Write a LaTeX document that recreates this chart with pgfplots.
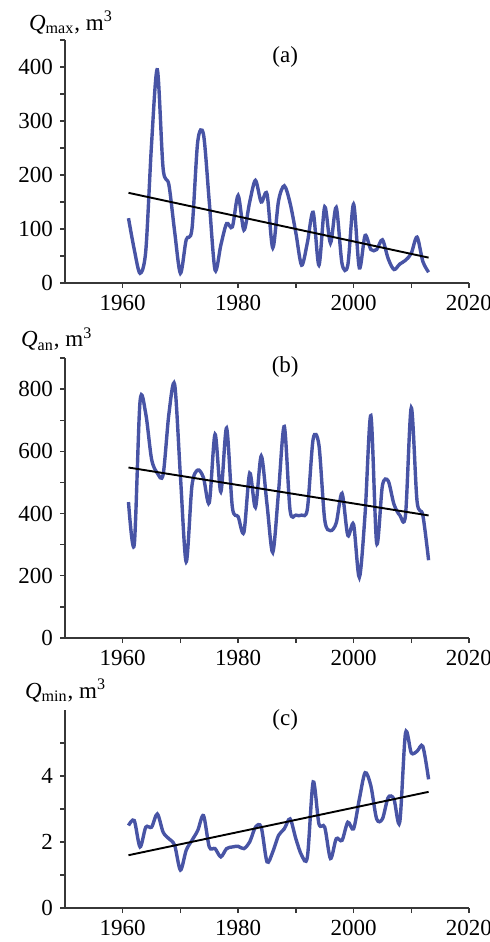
\documentclass[border=0pt]{standalone}
\usepackage{fontspec}
\setmainfont{Liberation Serif}
\usepackage{pgfplots}
\pgfplotsset{compat=1.18}

\definecolor{qline}{RGB}{72,84,165}
\definecolor{axgray}{RGB}{55,55,55}

\pgfplotsset{qpanel/.style={
    scale only axis, width=202pt, anchor=south west,
    xmin=1950, xmax=2020,
    axis lines*=left,
    axis line style={axgray, line width=0.75pt},
    tick align=outside,
    major tick length=2.5pt, minor tick length=2.5pt,
    every tick/.style={axgray, line width=0.7pt},
    xtick={1960,1980,2000,2020}, minor xtick={1970,1990,2010},
    ticklabel style={font=\fontsize{11.5}{13}\selectfont},
    /pgf/number format/assume math mode=true,
    /pgf/number format/1000 sep={},
    clip=false,
}}
\newcommand{\qlab}{\fontsize{11.5}{13}\selectfont}

% Q_max
\pgfplotstableread{
year q
1961 120
1962 62
1963 18
1964 60
1965 258
1966 395
1967 212
1968 182
1969 95
1970 18
1971 80
1972 100
1973 262
1974 275
1975 150
1976 24
1977 70
1978 110
1979 104
1980 162
1981 98
1982 150
1983 190
1984 150
1985 165
1986 65
1987 152
1988 180
1989 148
1990 93
1991 33
1992 75
1993 131
1994 33
1995 141
1996 74
1997 140
1998 36
1999 33
2000 146
2001 28
2002 88
2003 62
2004 62
2005 80
2006 45
2007 25
2008 35
2009 42
2010 55
2011 85
2012 40
2013 20
}\qmax

% Q_an
\pgfplotstableread{
year q
1961 437
1962 300
1963 760
1964 720
1965 575
1966 530
1967 525
1968 720
1969 815
1970 520
1971 245
1972 490
1973 540
1974 515
1975 435
1976 655
1977 470
1978 675
1979 420
1980 390
1981 340
1982 530
1983 420
1984 585
1985 430
1986 275
1987 470
1988 680
1989 410
1990 395
1991 395
1992 415
1993 640
1994 620
1995 380
1996 345
1997 370
1998 465
1999 330
2000 365
2001 195
2002 400
2003 715
2004 305
2005 490
2006 505
2007 430
2008 395
2009 395
2010 740
2011 440
2012 395
2013 250
}\qan

% Q_min
\pgfplotstableread{
year q
1961 2.5
1962 2.65
1963 1.85
1964 2.45
1965 2.45
1966 2.85
1967 2.3
1968 2.1
1969 1.9
1970 1.15
1971 1.75
1972 2.05
1973 2.35
1974 2.8
1975 1.85
1976 1.8
1977 1.55
1978 1.8
1979 1.85
1980 1.87
1981 1.8
1982 2.0
1983 2.45
1984 2.45
1985 1.4
1986 1.7
1987 2.2
1988 2.4
1989 2.7
1990 2.1
1991 1.6
1992 1.55
1993 3.82
1994 2.55
1995 2.45
1996 1.5
1997 2.1
1998 2.05
1999 2.6
2000 2.4
2001 3.3
2002 4.1
2003 3.7
2004 2.7
2005 2.7
2006 3.35
2007 3.3
2008 2.6
2009 5.3
2010 4.7
2011 4.75
2012 4.9
2013 3.9
}\qmin

\begin{document}
\begin{tikzpicture}
\path[use as bounding box] (0,0) rectangle (245pt,-471pt);

% (a)
\begin{axis}[qpanel, at={(32.5pt,-141.5pt)}, height=121.5pt,
    ymin=0, ymax=450,
    ytick={0,100,...,400}, minor ytick={50,150,...,450}]
  \addplot[qline, line width=1.7pt, smooth, no markers] table[x=year, y=q] {\qmax};
  \addplot[black, line width=0.95pt, no markers] coordinates {(1961,167) (2013,47)};
  \node[font=\qlab] at (rel axis cs:0.545,0.93) {(a)};
  \node[font=\qlab, anchor=base west, xshift=-21.5pt, yshift=5pt] at (rel axis cs:0,1)
    {\textit{Q}\textsubscript{max}, m\textsuperscript{3}};
\end{axis}

% (b)
\begin{axis}[qpanel, at={(32.5pt,-319pt)}, height=140pt,
    ymin=0, ymax=900,
    ytick={0,200,...,800}, minor ytick={100,300,...,900}]
  \addplot[qline, line width=1.7pt, smooth, no markers] table[x=year, y=q] {\qan};
  \addplot[black, line width=0.95pt, no markers] coordinates {(1961,548) (2013,394)};
  \node[font=\qlab] at (rel axis cs:0.545,0.968) {(b)};
  \node[font=\qlab, anchor=base west, xshift=-25.5pt, yshift=5.6pt] at (rel axis cs:0,1)
    {\textit{Q}\textsubscript{an}, m\textsuperscript{3}};
\end{axis}

% (c)
\begin{axis}[qpanel, at={(32.5pt,-454pt)}, height=99pt,
    ymin=0, ymax=6,
    ytick={0,2,4}, minor ytick={1,3,5}]
  \addplot[qline, line width=1.7pt, smooth, no markers] table[x=year, y=q] {\qmin};
  \addplot[black, line width=0.95pt, no markers] coordinates {(1961,1.6) (2013,3.52)};
  \node[font=\qlab] at (rel axis cs:0.545,0.95) {(c)};
  \node[font=\qlab, anchor=base west, xshift=-23.5pt, yshift=6pt] at (rel axis cs:0,1)
    {\textit{Q}\textsubscript{min}, m\textsuperscript{3}};
\end{axis}
\end{tikzpicture}
\end{document}
